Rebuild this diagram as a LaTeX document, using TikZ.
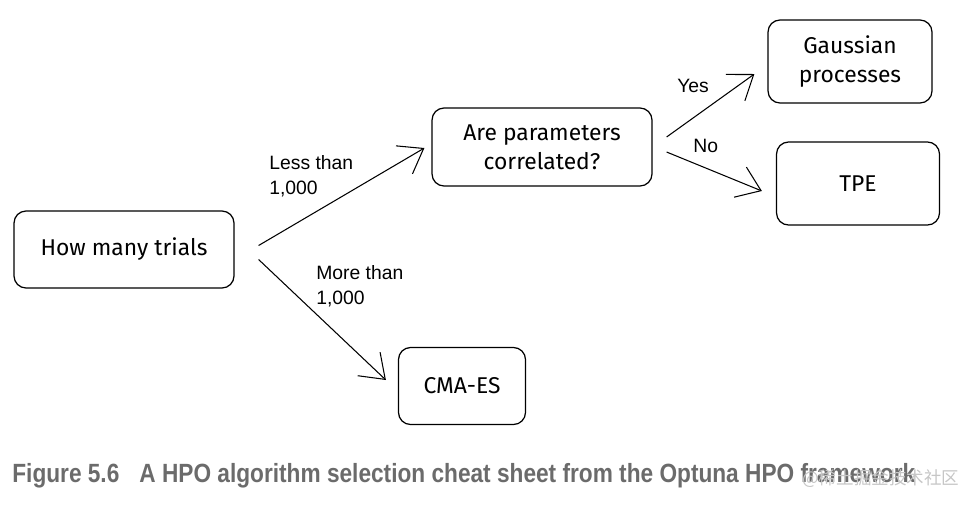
\documentclass[tikz,border=0pt]{standalone}
\usepackage{fontspec}
\setmainfont{Liberation Sans}
\newfontfamily\boxfont{Fira Sans}
\newfontfamily\capfont[FakeStretch=0.86]{Liberation Sans}
\newfontfamily\cjkfont{Noto Sans CJK SC}
\usepackage{tikz}
\usetikzlibrary{arrows.meta, calc}

\definecolor{captiongray}{HTML}{6B6B6B}

\begin{document}
\begin{tikzpicture}[
    x=0.02cm, y=-0.02cm,
    box/.style={draw, line width=0.7pt, rectangle, rounded corners=0.24cm, align=center, font=\boxfont\fontsize{13}{16.5}\selectfont},
    label/.style={anchor=north west, inner sep=0pt, align=left, font=\fontsize{11}{14.2}\selectfont},
    arrow/.style={-{Straight Barb[length=4.5mm, width=6.5mm]}, line width=0.6pt}
]
\useasboundingbox (0,0) rectangle (970,508);
% boxes
\node[box, minimum width=4.4cm, minimum height=1.54cm] (trials) at (124,249.5) {How many trials};
\node[box, minimum width=4.4cm, minimum height=1.56cm] (corr) at (542,147) {Are parameters\\correlated?};
\node[box, minimum width=3.28cm, minimum height=1.66cm] (gauss) at (850,61.5) {Gaussian\\processes};
\node[box, minimum width=3.26cm, minimum height=1.66cm] (tpe) at (858,183.5) {TPE};
\node[box, minimum width=2.54cm, minimum height=1.54cm] (cma) at (462,386) {CMA-ES};
% connectors
\draw[arrow] ($(trials.east)+(24,-4)$) -- ($(corr.west)+(-7,1)$);
\draw[arrow] ($(trials.east)+(24,10)$) -- ($(cma.west)+(-12,-6)$);
\draw[arrow] ($(corr.east)+(14,-10)$) -- ($(gauss.west)+(-13,12.5)$);
\draw[arrow] ($(corr.east)+(14,5)$) -- ($(tpe.west)+(-14,7.5)$);
% labels
\node[label] (less) at (269,155) {Less than\\1,000};
\node[label] (more) at (316,265) {More than\\1,000};
\node[label] (yes) at (677,79) {Yes};
\node[label] (no) at (693,139) {No};
% caption
\node[anchor=base west, inner sep=0pt, text=captiongray, font=\capfont\bfseries\fontsize{15}{18}\selectfont] (caption) at (12,482)
  {Figure 5.6\hspace{0.4cm}A HPO algorithm selection cheat sheet from the Optuna HPO framework};
\node[anchor=base west, inner sep=0pt, text=gray!45, font=\cjkfont\fontsize{10}{12}\selectfont] (mark) at (802,484) {@稀土掘金技术社区};
\end{tikzpicture}
\end{document}
